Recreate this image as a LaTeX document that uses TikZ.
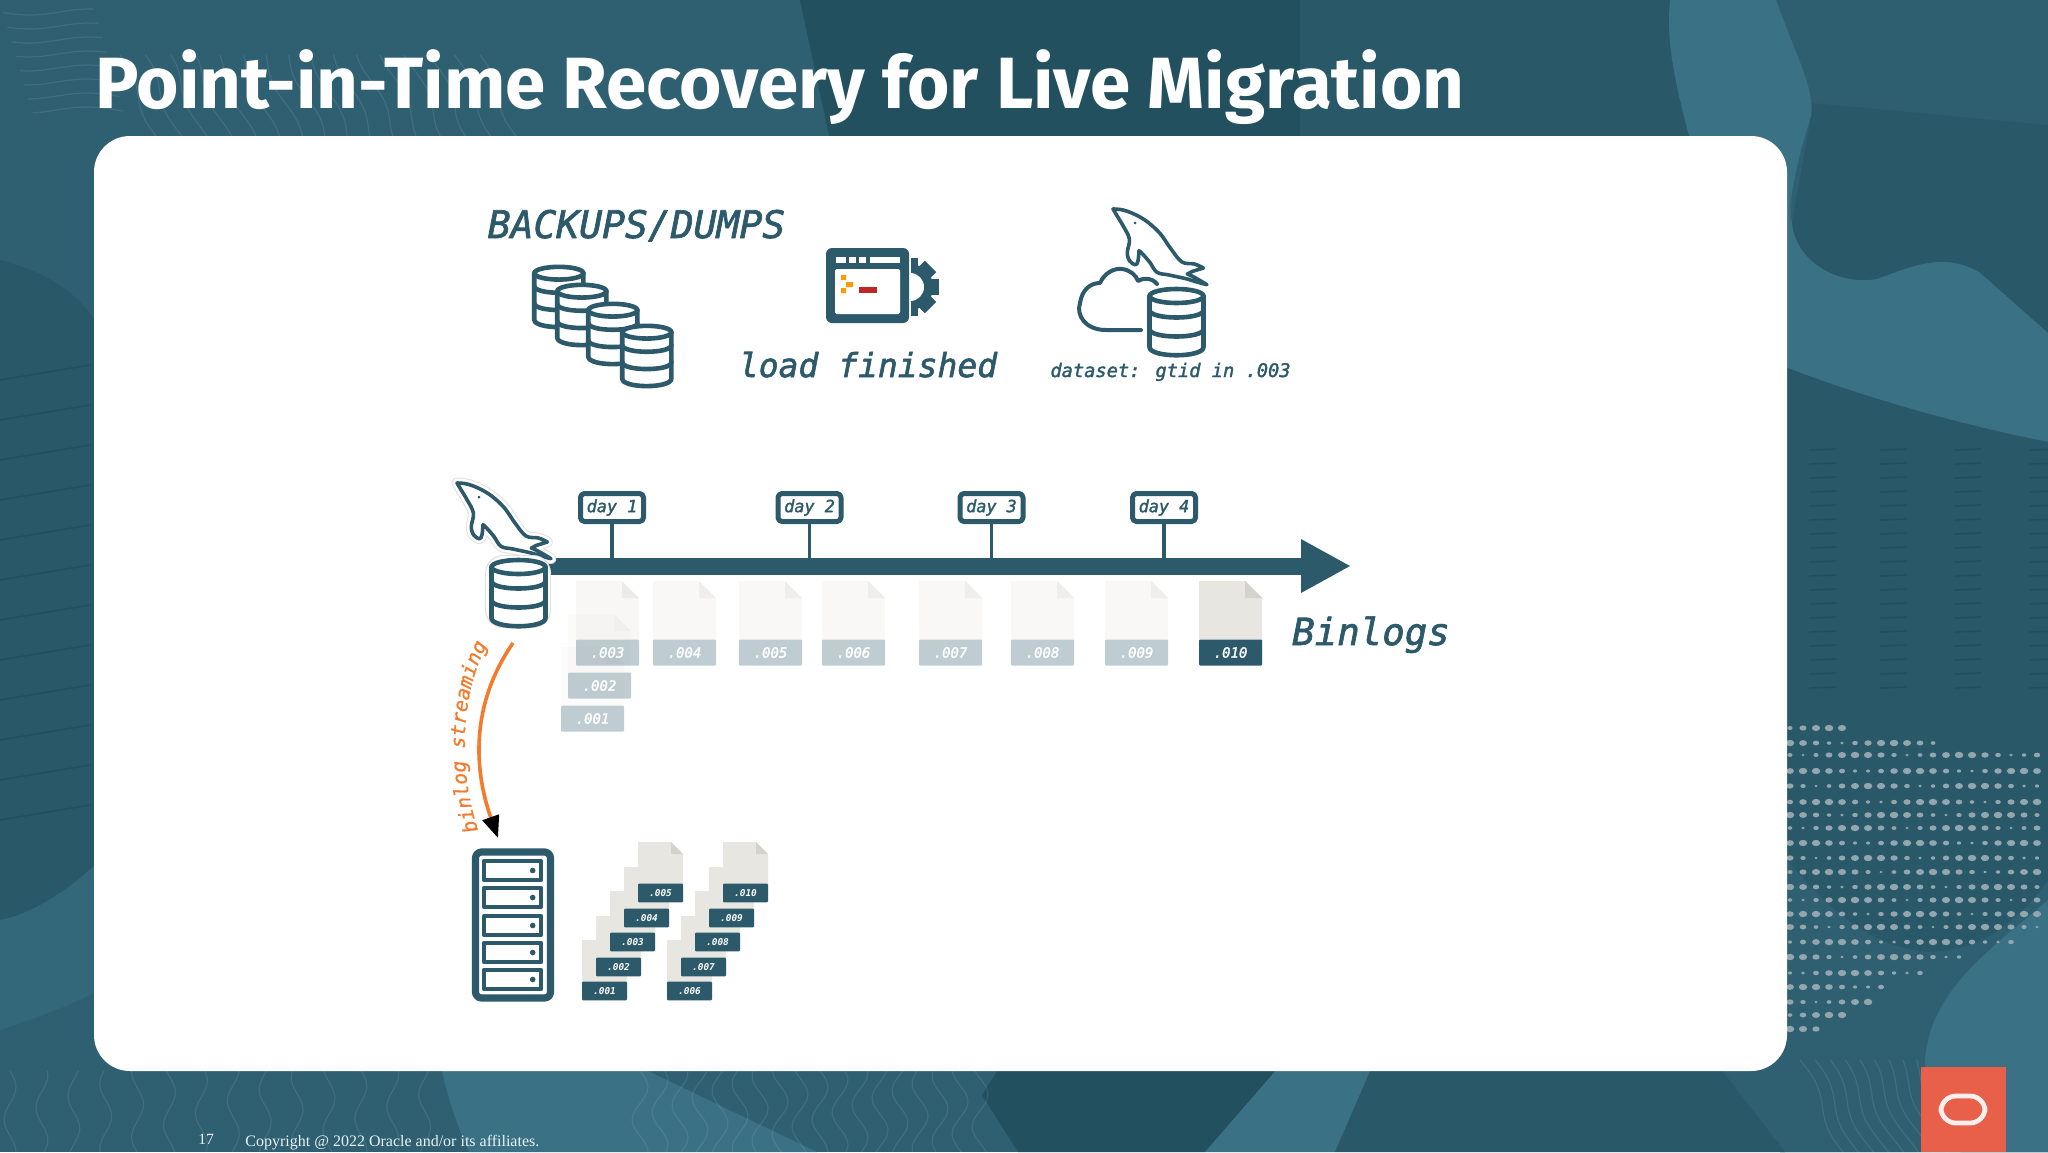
\documentclass[tikz,border=0pt]{standalone}
\usepackage{fontspec}
\usetikzlibrary{arrows.meta,decorations.text}
\setmainfont{Liberation Serif}
\newfontfamily\titlefont{Fira Sans}
\newfontfamily\codefont{DejaVu Sans Mono}
\newcommand{\codeat}[1]{\fontsize{#1}{#1}\codefont\itshape\addfontfeature{FakeBold=1.8}\selectfont}
\newcommand{\smallcode}{\fontsize{4.7}{5}\codefont\bfseries\itshape\selectfont}
\newcommand{\streamfont}{\fontsize{9.9}{10}\codefont\itshape\addfontfeature{FakeBold=.8}\selectfont}
\newcommand{\dolphinshape}{plot[smooth,tension=.6] coordinates {(0,0) (10,1) (22.5,5.7) (35,13.3) (47.5,25) (58,40) (69,53) (81.4,55) (90.4,59)} -- (79.6,62.3) -- (74.3,65) -- plot[smooth,tension=.6] coordinates {(74.3,65) (81.4,68.3) (94,75.7)} -- plot[smooth,tension=.6] coordinates {(94,75.7) (81.4,72.3) (74.3,70) (56,66) (44,63.3) (36.8,53.3) (29.6,45) (26,41.7)} -- plot[smooth,tension=.6] coordinates {(26,41.7) (25,51.7) (22.5,55.7) (16.4,51.7) (14.3,43.3) (16.4,30) (10,16.7) (4.6,7.7) (0,0)} -- cycle}
\definecolor{inkteal}{HTML}{2C5A6B}
\definecolor{bgbase}{HTML}{2E6072}
\definecolor{bgdark}{HTML}{295868}
\definecolor{bgdeep}{HTML}{22505F}
\definecolor{bglight}{HTML}{3A7185}
\definecolor{dotgrey}{HTML}{93A6AE}
\definecolor{pagegrey}{HTML}{E8E6E1}
\definecolor{foldgrey}{HTML}{D4D2CC}
\definecolor{arcorange}{HTML}{F47B2B}
\definecolor{logored}{HTML}{E8604A}
\tikzset{
  dbline/.style={draw=inkteal,line width=2.3pt,fill=white},
  dbcyl/.pic={
    \draw[dbline] (2.5,9) -- (2.5,60) .. controls (2.5,71) and (56.5,71) .. (56.5,60) -- (56.5,9);
    \draw[dbline] (29.5,9) ellipse [x radius=27, y radius=7];
    \foreach \by in {23,42}
      \draw[dbline,fill=none] (2.5,\by) .. controls (2.5,{\by+10}) and (56.5,{\by+10}) .. (56.5,\by);
  },
  dolphin/.pic={
    \draw[draw=inkteal,line width=1.8pt,fill=white,line join=round] \dolphinshape;
    \fill[inkteal] (22,14) circle (1.5);
  },
  daybox/.style={draw=inkteal,line width=2.5pt,rounded corners=2pt,fill=white,minimum width=31.5pt,minimum height=14pt,inner sep=0pt,text=inkteal,font=\codeat{8.4}},
  filelabel/.style={fill=inkteal,text=white,text opacity=1,inner sep=0pt,minimum width=31.5pt,minimum height=13pt,rounded corners=.5pt,font=\codeat{7}},
  smalllabel/.style={fill=inkteal,text=white,inner sep=0pt,minimum width=22.5pt,minimum height=9.3pt,rounded corners=.5pt,font=\smallcode},
  headline/.style={anchor=base,inner sep=0pt,text=inkteal},
  contour/.style={draw=white,draw opacity=.09,line width=.6pt},
}
\begin{document}
\begin{tikzpicture}[line cap=round,line join=round,x=.5pt,y=-.5pt]
\useasboundingbox (0,0) rectangle (2048,1152);
\fill[bgbase] (0,0) rectangle (2048,1152);
\fill[bgdeep] (800,0) -- (1330,0) -- (1400,60) -- (1300,140) -- (830,140) -- cycle;
\fill[bgdark] (1300,0) -- (1672,0) -- (1690,140) -- (1300,140) -- cycle;
\fill[bgbase!85!bgdark] (1776,0) -- (2048,0) -- (2048,125) -- (1811,103) -- cycle;
\fill[bgdark] (1811,103) -- (2048,125) -- (2048,333) -- (1979,272) .. controls (1944,252) and (1913,266) .. (1877,279) .. controls (1836,286) and (1785,260) .. (1792,223) -- (1811,116) -- cycle;
\fill[bglight] (1670,0) -- (1776,0) .. controls (1797,58) and (1815,90) .. (1811,116) .. controls (1800,150) and (1785,210) .. (1792,223) .. controls (1795,260) and (1836,286) .. (1877,279) .. controls (1913,266) and (1944,252) .. (1979,272) -- (2048,333) -- (2048,442) .. controls (1955,424) and (1850,393) .. (1780,365) -- (1690,140) .. controls (1680,100) and (1665,50) .. (1670,0) -- cycle;
\fill[bgdark] (1780,365) .. controls (1850,393) and (1955,424) .. (2048,442) -- (2048,1152) -- (1780,1152) -- cycle;
\fill[bgbase] (1780,850) .. controls (1900,1010) and (2000,950) .. (2048,880) -- (2048,1152) -- (1780,1152) -- cycle;
\fill[bglight] (2048,900) .. controls (1990,950) and (1930,990) .. (1925,1060) .. controls (1925,1110) and (1950,1140) .. (1960,1152) -- (2048,1152) -- cycle;
\fill[bgdark] (0,260) .. controls (40,270) and (80,290) .. (100,330) -- (100,870) .. controls (60,900) and (30,915) .. (0,920) -- cycle;
\fill[bgbase!60!bglight] (0,920) .. controls (30,915) and (70,890) .. (100,860) -- (100,990) .. controls (60,1010) and (30,1020) .. (0,1030) -- cycle;
\fill[bglight] (440,1060) -- (625,1060) -- (817,1152) -- (469,1152) .. controls (455,1120) and (445,1090) .. (440,1060) -- cycle;
\fill[bgdeep] (1004,1060) -- (1285,1060) -- (1205,1152) -- (1018,1152) -- (982,1095) -- cycle;
\fill[bglight] (1285,1060) -- (1375,1060) -- (1335,1152) -- (1205,1152) -- cycle;
\fill[bgdark] (1375,1060) -- (1714,1060) -- (1785,1152) -- (1335,1152) -- cycle;
\foreach \ox in {0,22,...,286}
  \draw[contour] plot[smooth,domain=0:9,samples=12] ({10+\ox*1.45+6*sin(50*\x+3*\ox)},{1071+9*\x});
\foreach \ox in {0,20,...,340}
  \draw[contour] plot[smooth,domain=0:9,samples=12] ({640+\ox+8*sin(50*\x+2*\ox)},{1071+9*\x});
\foreach \ox in {0,14,...,112}
  \draw[contour] plot[smooth,domain=0:9,samples=12] ({1800+\ox+5*\x+5*sin(40*\x+\ox)},{1060+10.5*\x});
\foreach \ox in {0,24,...,360}
  \draw[contour] plot[smooth,domain=0:9,samples=10] ({120+\ox+4*\x+4*sin(40*\x+\ox)},{55+9*\x});
\foreach \oy in {12,26,...,110}
  \draw[contour] plot[smooth,domain=0:9,samples=10] ({10*\x+\oy*.3},{\oy+3*sin(30*\x+\oy)});
\foreach \hy in {450,464,...,700}
  \foreach \hx in {1810,1880,1955,2030}
    \draw[bgdeep,line width=.8pt] (\hx,\hy) -- ({\hx+26},{\hy-1});
\foreach \hy in {380,420,...,840}
  \draw[bgdeep,line width=.7pt] (0,\hy) -- (90,{\hy-15});
\foreach \ry/\rend in {728/1842,743/1943,755/2048,771/2048,786/2048,802/2048,815/2048,828/2048,843/2048,858/2048,872/2048,887/2048,900/2048,914/2048,927/2048,942/2023,957/1967,973/1927,987/1893,1002/1875,1015/1847,1029/1823}
  \foreach \dx in {1790,1803,...,\rend}
    \fill[dotgrey] (\dx,\ry) ellipse [x radius={1.5+2.8*abs(sin(\dx*1.7+\ry*5))}, y radius={1.2+2*abs(sin(\dx*1.7+\ry*5))}];
\fill[white] (94,136) [rounded corners=18pt] -- (1787,136) -- (1787,1071) -- (94,1071) -- cycle;
\node[anchor=base west,inner sep=0pt,text=white,font=\titlefont\bfseries\fontsize{36.3}{36}\selectfont] (title) at (95,108) {Point-in-Time Recovery for Live Migration};
\node[anchor=base west,inner sep=0pt,text=white!90!bglight,font=\fontsize{7.8}{8}\selectfont] (pagenum) at (198,1144) {17};
\node[anchor=base west,inner sep=0pt,text=white!90!bglight,font=\fontsize{8}{8}\selectfont] (copyright) at (245,1146) {Copyright @ 2022 Oracle and/or its affiliates.};
\fill[logored] (1921,1067) rectangle (2006,1152);
\draw[white!90!logored,line width=2.4pt,rounded corners=7.5pt] (1941,1096) rectangle (1985,1123);
\node[headline,font=\codeat{19}] (backups) at (636.5,238) {BACKUPS/DUMPS};
\pic[scale=.91] (dbone) at (532,265) {dbcyl};
\pic[scale=.91] (dbtwo) at (555,283) {dbcyl};
\pic[scale=.91] (dbthree) at (586,302) {dbcyl};
\pic[scale=.91] (dbfour) at (620,324) {dbcyl};
\begin{scope}
\clip (911,250) rectangle (945,325);
\fill[inkteal] (910,287) circle (23);
\foreach \ang in {-90,-45,0,45,90}
  \fill[inkteal,rotate around={\ang:(910,287)}] (925,279) rectangle (939,295);
\fill[white] (910,287) circle (14);
\end{scope}
\fill[inkteal,rounded corners=3pt] (826,248) rectangle (909,323);
\fill[white,rounded corners=.8pt] (835,269) rectangle (900,314);
\foreach \sx/\sw in {836/10,849/7,859/7,870/30}
  \fill[white] (\sx,257) rectangle ({\sx+\sw},263);
\fill[orange!80!yellow] (841,275) rectangle (846,280) (846,282) rectangle (853,287) (841,288) rectangle (846,293);
\fill[red!70!black!85!white] (859,287) rectangle (877,293);
\node[headline,font=\codeat{16.5}] (loaded) at (868,377) {load finished};
\draw[inkteal,line width=2pt] (1141,330) -- (1106,330) .. controls (1085,330) and (1076,315) .. (1080,303) .. controls (1082,290) and (1090,283) .. (1100,283) .. controls (1105,272) and (1115,268) .. (1122,269) .. controls (1130,270) and (1136,275) .. (1138,281) .. controls (1145,277) and (1152,278) .. (1157,284);
\pic (cloudfin) at (1113,209) {dolphin};
\pic (dbcloud) at (1147,287) {dbcyl};
\node[headline,font=\codeat{9.35}] (dataset) at (1170.5,377) {dataset: gtid in .003};
\coordinate (tlstart) at (540,566);
\coordinate (tlend) at (1351,566);
\draw[inkteal,line width=8.5pt,line cap=butt,-{Triangle[length=25pt,width=25pt]}] (tlstart) -- (tlend);
\foreach \dn/\dx in {1/612,2/809.5,3/991.5,4/1164}{
  \node[daybox] (day\dn) at (\dx,507.5) {day \dn};
  \draw[inkteal,line width=1.6pt,line cap=butt] (day\dn.south) -- (day\dn.south |- tlstart);
}
\foreach \fx/\fname/\ftop/\ly/\fop in {561/001/647/718.5/.12,568/002/614/685.5/.15,576/003/581/652.5/.3,653/004/581/652.5/.25,739/005/581/652.5/.25,822/006/581/652.5/.25,919/007/581/652.5/.25,1011/008/581/652.5/.25,1105/009/581/652.5/.25,1199/010/581/652.5/1}{
  \fill[pagegrey,fill opacity=\fop] (\fx,\ftop) -- ({\fx+46},\ftop) -- ({\fx+63},{\ftop+17}) -- ({\fx+63},{\ly-13}) -- (\fx,{\ly-13}) -- cycle;
  \fill[foldgrey,fill opacity=\fop] ({\fx+46},\ftop) -- ({\fx+63},{\ftop+17}) -- ({\fx+46},{\ftop+17}) -- cycle;
  \pgfmathsetmacro{\lop}{max(\fop,.3)}
  \node[filelabel,fill opacity=\lop] (big\fname) at ({\fx+31.5},\ly) {.\fname};
}
\node[headline,font=\codeat{18.7}] (binlogs) at (1371,645) {Binlogs};
\begin{scope}[shift={(457,483)}]
\draw[draw=black!12,line width=5.4pt] \dolphinshape;
\draw[draw=white,line width=4.4pt] \dolphinshape;
\end{scope}
\pic (mainfin) at (457,483) {dolphin};
\fill[black!12,rounded corners=9pt] (485,555) rectangle (551,628);
\fill[white,rounded corners=9pt] (486,556) rectangle (550,627);
\pic (maindb) at (489,558) {dbcyl};
\coordinate (arcfrom) at (513,643);
\coordinate (arcto) at (498,838);
\coordinate (textfrom) at (478,830);
\coordinate (textto) at (487,645);
\draw[arcorange,line width=1.8pt,line cap=butt,-{Triangle[length=11pt,width=8.5pt,black]}] (arcfrom) .. controls (470,705) and (474,770) .. (arcto);
\path[decorate,decoration={text along path,text align=center,text={|\streamfont\color{arcorange}|binlog streaming}}] (textfrom) .. controls (460,775) and (458,700) .. (textto);
\node[draw=inkteal,line width=3.6pt,rounded corners=3pt,minimum width=37.5pt,minimum height=73pt,inner sep=0pt] (rack) at (513,925) {};
\foreach \uy in {870.5,897.5,925.5,952.5,979.5}{
  \draw[draw=inkteal,line width=2.4pt,line cap=butt] (484,{\uy-9.5}) rectangle (541,{\uy+9.5});
  \fill[inkteal] (532.7,\uy) circle (2.8);
}
\foreach \fx/\ftop/\fname in {582/940/001,596/916/002,610/891/003,624/867/004,638/842/005,667/940/006,681/916/007,695/891/008,709/867/009,723/842/010}{
  \fill[pagegrey] (\fx,\ftop) -- ({\fx+33},\ftop) -- ({\fx+45},{\ftop+12}) -- ({\fx+45},{\ftop+45}) -- (\fx,{\ftop+45}) -- cycle;
  \fill[foldgrey] ({\fx+33},\ftop) -- ({\fx+45},{\ftop+12}) -- ({\fx+33},{\ftop+12}) -- cycle;
  \node[smalllabel] (small\fname) at ({\fx+22.5},{\ftop+51}) {.\fname};
}
\end{tikzpicture}
\end{document}
